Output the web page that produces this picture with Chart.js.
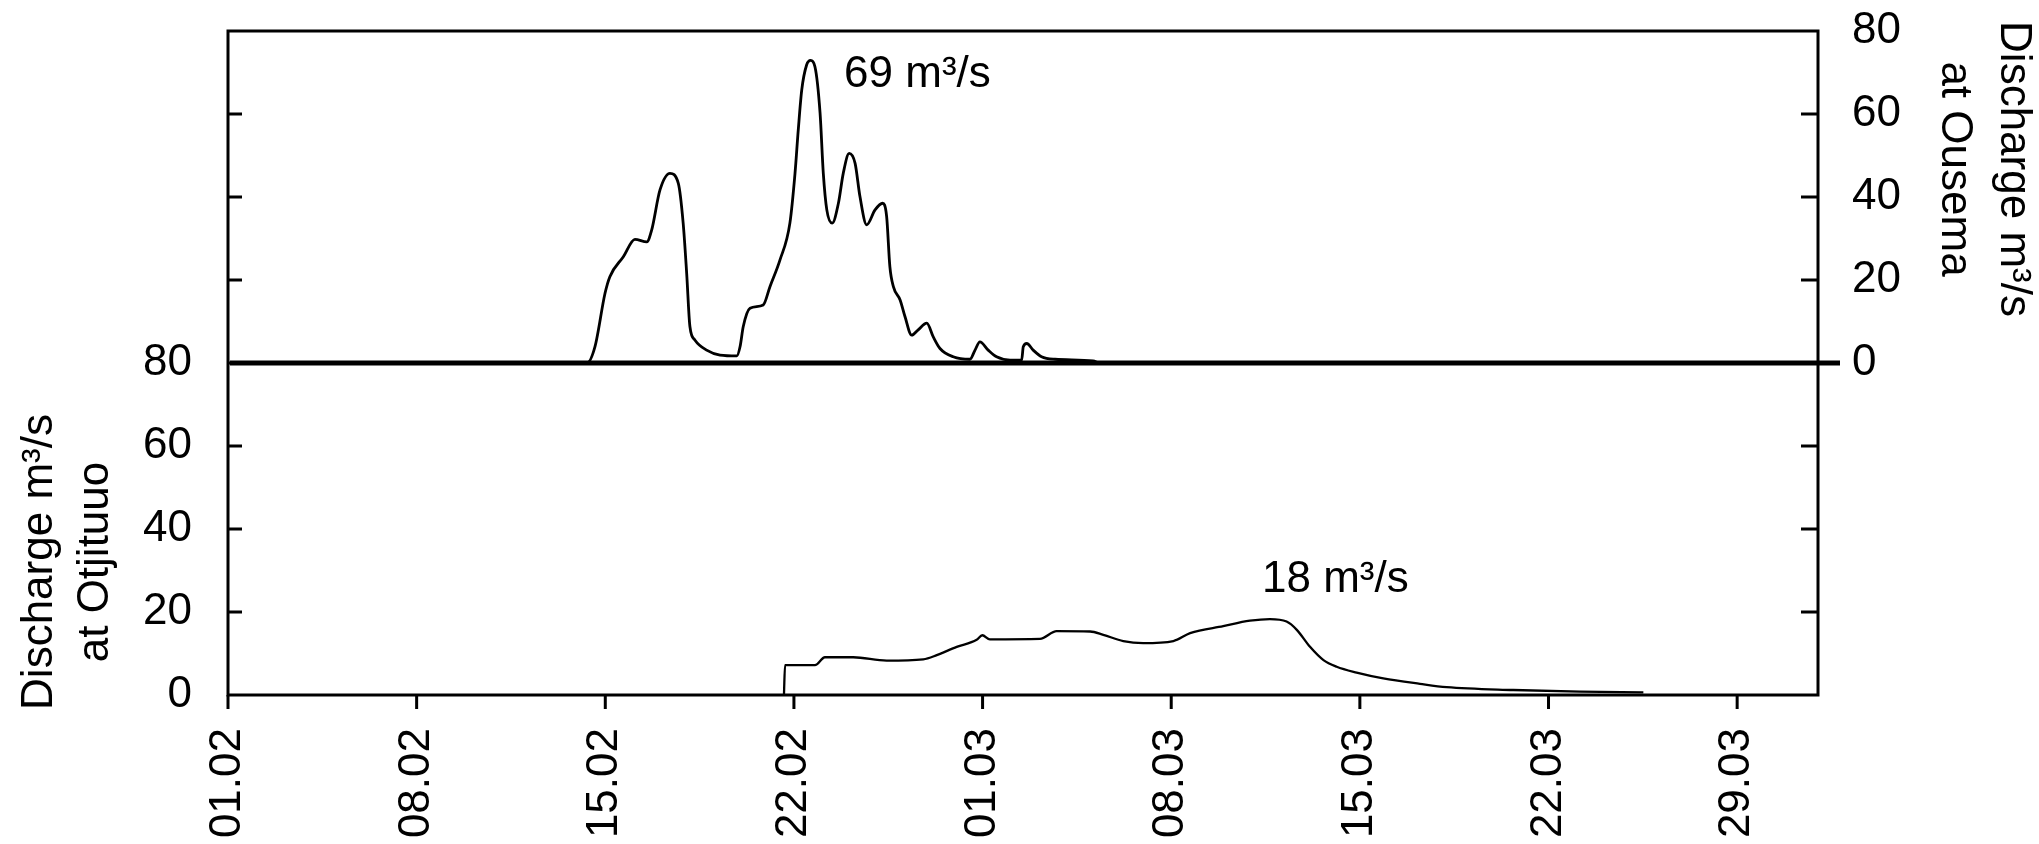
<!DOCTYPE html>
<html><head><meta charset="utf-8">
<script src="https://cdn.jsdelivr.net/npm/chart.js@4/dist/chart.umd.min.js"></script>
<style>html,body{margin:0;padding:0;background:#fff;overflow:hidden}</style>
</head><body>
<canvas id="c" width="2039" height="844" style="width:2039px;height:844px;display:block"></canvas>
<script>
// ---- data (days counted from 01.02) ----
const tickDays = [0, 7, 14, 21, 28, 35, 42, 49, 56];
const tickLabels = ['01.02', '08.02', '15.02', '22.02', '01.03', '08.03', '15.03', '22.03', '29.03'];
const yTickValues = [0, 20, 40, 60, 80];

const ousemaDays = [0, 13.32, 13.62, 13.99, 14.17, 14.67, 15.10, 15.54, 15.72, 16.03, 16.40, 16.71, 16.89, 17.02, 17.14, 17.33, 17.76, 18.26, 18.88, 19.00, 19.12, 19.37, 19.86, 20.11, 20.48, 20.85, 21.04, 21.16, 21.29, 21.47, 21.62, 21.78, 21.97, 22.09, 22.22, 22.42, 22.65, 22.83, 23.05, 23.27, 23.45, 23.70, 24.01, 24.29, 24.44, 24.56, 24.69, 24.94, 25.12, 25.37, 25.61, 25.93, 26.17, 26.42, 26.91, 27.53, 27.72, 27.90, 28.21, 28.52, 29.02, 29.45, 29.51, 29.64, 29.88, 30.19, 30.69, 32.10, 32.36, 59];
const ousemaFlow = [0, 0, 4.0, 16.8, 20.8, 25.6, 29.8, 29.2, 32.0, 41.7, 45.7, 43.3, 33.7, 21.6, 8.8, 5.5, 3.1, 1.9, 1.7, 3.9, 8.8, 13.2, 14.0, 18.4, 24.8, 33.7, 45.7, 56.1, 65.8, 71.8, 72.9, 71.4, 60.2, 45.7, 36.9, 33.7, 38.5, 45.7, 50.5, 48.1, 40.1, 33.3, 36.9, 38.5, 35.3, 23.2, 18.4, 15.2, 11.2, 6.7, 8.0, 9.6, 6.3, 3.5, 1.5, 0.9, 3.1, 5.1, 3.1, 1.5, 0.7, 0.7, 3.9, 4.7, 3.1, 1.5, 0.9, 0.5, 0, 0];

const otjituuoDays = [20.63, 20.67, 21.78, 22.15, 23.20, 24.44, 25.80, 26.30, 27.04, 27.78, 27.99, 28.27, 30.13, 30.75, 31.99, 32.48, 33.22, 33.96, 35.08, 35.70, 36.93, 37.92, 38.66, 39.28, 39.66, 40.15, 40.65, 41.14, 41.88, 42.87, 44.23, 45.22, 47.69, 50.17, 52.52];
const otjituuoFlow = [0, 7.2, 7.2, 9.1, 9.1, 8.3, 8.6, 9.6, 11.6, 13.3, 14.4, 13.4, 13.5, 15.4, 15.3, 14.5, 13.0, 12.5, 13.0, 14.9, 16.6, 17.9, 18.3, 17.7, 15.7, 11.6, 8.4, 6.8, 5.4, 4.0, 2.7, 1.9, 1.2, 0.8, 0.65];

const noteTexts = ['69 m³/s', '18 m³/s'];
const noteDays = [22.86, 38.37];
const noteValues = [66.5, 24.8];
const noteAxes = ['yTop', 'yBot'];

// ---- styles ----
const FONT = "'Liberation Sans', Arial, Helvetica, sans-serif";
const FS = 44;

const framePlugin = {
  id: 'frame',
  afterDatasetsDraw(chart) {
    const ctx = chart.ctx, a = chart.chartArea;
    const x = chart.scales.x, yT = chart.scales.yTop, yB = chart.scales.yBot;
    ctx.save();
    ctx.strokeStyle = '#000';
    ctx.lineCap = 'butt';
    ctx.lineWidth = 3;
    ctx.strokeRect(a.left, a.top, a.right - a.left, a.bottom - a.top);
    ctx.beginPath();
    tickDays.forEach(d => {
      const px = x.getPixelForValue(d);
      ctx.moveTo(px, a.bottom); ctx.lineTo(px, a.bottom + 14);
    });
    [20, 40, 60, 100, 120, 140].forEach(v => {
      const py = yB.getPixelForValue(v);
      ctx.moveTo(a.left, py); ctx.lineTo(a.left + 14, py);
    });
    [-60, -40, -20, 20, 40, 60].forEach(v => {
      const py = yT.getPixelForValue(v);
      ctx.moveTo(a.right, py); ctx.lineTo(a.right - 17, py);
    });
    ctx.stroke();
    const y0 = yT.getPixelForValue(0);
    ctx.lineWidth = 5;
    ctx.beginPath();
    ctx.moveTo(a.left + 2, y0); ctx.lineTo(a.right + 22, y0);
    ctx.stroke();

    ctx.fillStyle = '#000';
    ctx.font = FS + 'px ' + FONT;
    ctx.textAlign = 'left';
    ctx.textBaseline = 'alphabetic';
    noteTexts.forEach((t, i) => {
      const sc = chart.scales[noteAxes[i]];
      ctx.fillText(t, x.getPixelForValue(noteDays[i]), sc.getPixelForValue(noteValues[i]));
    });

    ctx.textAlign = 'center';
    ctx.save();
    ctx.translate(2001, 169);
    ctx.rotate(Math.PI / 2);
    ctx.fillText('Discharge m³/s', 0, 0);
    ctx.fillText('at Ousema', 0, 59);
    ctx.restore();
    ctx.save();
    ctx.translate(52, 562);
    ctx.rotate(-Math.PI / 2);
    ctx.fillText('Discharge m³/s', 0, 0);
    ctx.fillText('at Otjituuo', 0, 56);
    ctx.restore();
    ctx.restore();
  }
};

const toPts = (xs, ys) => xs.map((d, i) => ({ x: d, y: ys[i] }));
const noPadY = s => { s.paddingTop = 0; s.paddingBottom = 0; };

new Chart(document.getElementById('c'), {
  type: 'line',
  data: {
    datasets: [
      { label: 'Ousema', data: toPts(ousemaDays, ousemaFlow), yAxisID: 'yTop',
        borderColor: '#000', borderWidth: 2.8, pointRadius: 0, fill: false,
        cubicInterpolationMode: 'monotone' },
      { label: 'Otjituuo', data: toPts(otjituuoDays, otjituuoFlow), yAxisID: 'yBot',
        borderColor: '#000', borderWidth: 2.3, pointRadius: 0, fill: false,
        cubicInterpolationMode: 'monotone' }
    ]
  },
  options: {
    responsive: false,
    devicePixelRatio: 1,
    animation: false,
    layout: { padding: { top: 31, left: 0, right: 0, bottom: 0 } },
    plugins: { legend: { display: false }, tooltip: { enabled: false } },
    scales: {
      x: {
        type: 'linear', position: 'bottom', min: 0, max: 59,
        afterBuildTicks: s => { s.ticks = tickDays.map(v => ({ value: v })); },
        afterFit: s => { s.height = 149; s.paddingLeft = 0; s.paddingRight = 0; },
        grid: { display: false, drawTicks: false },
        border: { display: false },
        ticks: {
          autoSkip: false, minRotation: 90, maxRotation: 90, padding: 33,
          color: '#000', font: { family: FONT, size: FS },
          callback: v => tickLabels[tickDays.indexOf(v)]
        }
      },
      yBot: {
        type: 'linear', position: 'left', min: 0, max: 160,
        afterBuildTicks: s => { s.ticks = yTickValues.map(v => ({ value: v })); },
        afterFit: s => { s.width = 228; noPadY(s); },
        grid: { display: false, drawTicks: false },
        border: { display: false },
        ticks: { padding: 36, color: '#000', font: { family: FONT, size: FS } }
      },
      yTop: {
        type: 'linear', position: 'right', min: -80, max: 80,
        afterBuildTicks: s => { s.ticks = yTickValues.map(v => ({ value: v })); },
        afterFit: s => { s.width = 221; noPadY(s); },
        grid: { display: false, drawTicks: false },
        border: { display: false },
        ticks: { padding: 34, color: '#000', font: { family: FONT, size: FS } }
      }
    }
  },
  plugins: [framePlugin]
});
</script>
</body></html>
